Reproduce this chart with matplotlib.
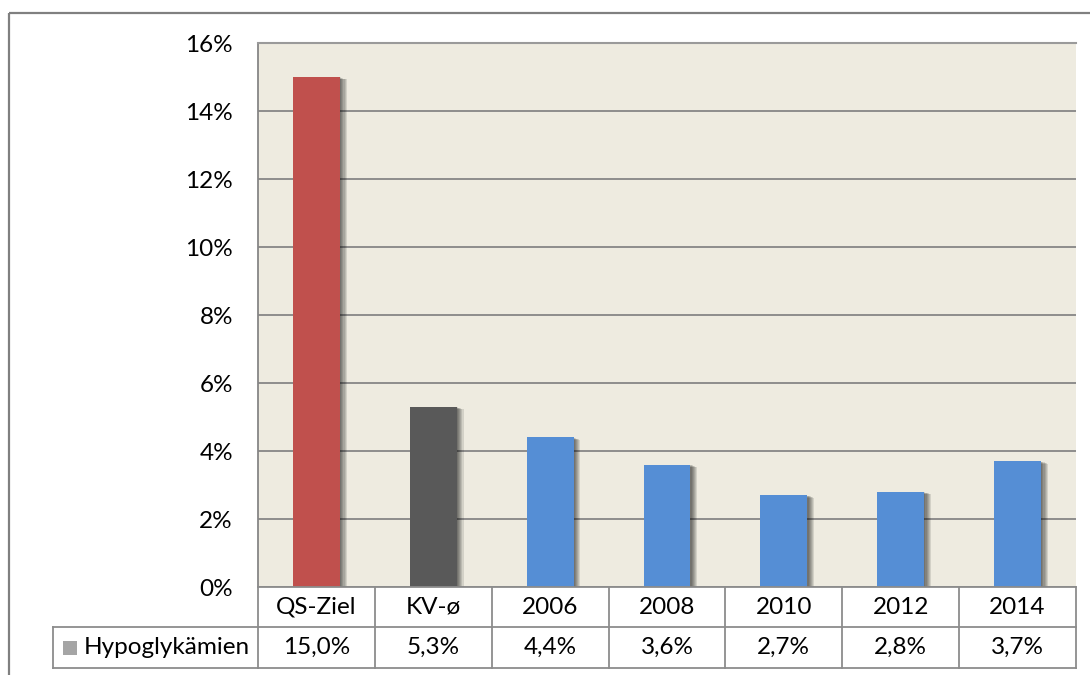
import matplotlib
matplotlib.use("Agg")
import matplotlib.pyplot as plt
import matplotlib.patheffects as pe
from matplotlib.patches import Rectangle
from matplotlib.ticker import FuncFormatter
import matplotlib.transforms as mtransforms

categories = ["QS-Ziel", "KV-ø", "2006", "2008", "2010", "2012", "2014"]
values = [15.0, 5.3, 4.4, 3.6, 2.7, 2.8, 3.7]
series_name = "Hypoglykämien"
colors = ["#C0504D", "#595959", "#558ED5", "#558ED5", "#558ED5", "#558ED5", "#558ED5"]
yticks = [0, 2, 4, 6, 8, 10, 12, 14, 16]

plt.rcParams['font.family'] = ['Lato', 'DejaVu Sans']
FS = 17.5

W, H = 1090, 675
fig = plt.figure(figsize=(W / 100, H / 100), dpi=100)
fig.patch.set_facecolor("white")

# outer border
fig.add_artist(Rectangle((8.5 / W, 1 - 13 / H), 1.2, -1.2, transform=fig.transFigure,
                         fill=False, edgecolor="#808080", linewidth=1.6))

left, right, top, bottom = 258, 1076, 43, 587
ax = fig.add_axes([left / W, 1 - bottom / H, (right - left) / W, (bottom - top) / H])
ax.set_facecolor("#EEEBE0")

x = list(range(len(categories)))
shadow = [pe.SimplePatchShadow(offset=(k, -k * 0.35), shadow_rgbFace="black", alpha=0.11)
          for k in (1.0, 1.8, 2.6, 3.4, 4.2, 5.0)]
bars = ax.bar(x, values, width=0.40, color=colors, zorder=3)
for b in bars:
    b.set_path_effects(shadow + [pe.Normal()])

ax.set_xlim(-0.5, len(categories) - 0.5)
ax.set_ylim(0, 16)
ax.set_yticks(yticks)
ax.yaxis.set_major_formatter(FuncFormatter(lambda v, p: f"{int(v)}%"))
ax.tick_params(axis="y", length=0, pad=18, labelsize=FS, labelcolor="black")
ax.set_xticks([])
ax.grid(axis="y", color="#868686", linewidth=1.3, zorder=1)
for s in ["top", "right", "bottom"]:
    ax.spines[s].set_visible(False)
ax.spines["left"].set_color("#868686")
ax.spines["left"].set_linewidth(1.3)
ax.spines["top"].set_visible(True)
ax.spines["top"].set_color("#9A9A9A")
ax.spines["top"].set_linewidth(1.5)

# data table
trans = mtransforms.blended_transform_factory(ax.transData, ax.transAxes)
ph = bottom - top
r1 = -(627 - bottom) / ph
r2 = -(668 - bottom) / ph
tc = "#8C8C8C"
lw = 1.3
xl, xr = -0.5, len(categories) - 0.5
ax.plot([xl, xr], [0, 0], transform=trans, color=tc, lw=lw, clip_on=False, zorder=5)
ax.plot([xl, xr], [r1, r1], transform=trans, color=tc, lw=lw, clip_on=False)
ax.plot([xl, xr], [r2, r2], transform=trans, color=tc, lw=lw, clip_on=False)
for i in range(len(categories) + 1):
    xb = i - 0.5
    ax.plot([xb, xb], [0, r2], transform=trans, color=tc, lw=lw, clip_on=False)
# left legend column
lx = -(left - 53) / (right - left)
ax.plot([lx, 0], [r1, r1], transform=ax.transAxes, color=tc, lw=lw, clip_on=False)
ax.plot([lx, 0], [r2, r2], transform=ax.transAxes, color=tc, lw=lw, clip_on=False)
ax.plot([lx, lx], [r1, r2], transform=ax.transAxes, color=tc, lw=lw, clip_on=False)

for i, (c, v) in enumerate(zip(categories, values)):
    ax.text(i, r1 / 2, c, transform=trans, ha="center", va="center", fontsize=FS)
    ax.text(i, (r1 + r2) / 2, f"{v:.1f}%".replace(".", ","), transform=trans,
            ha="center", va="center", fontsize=FS)

sq_x = -(left - 63) / (right - left)
sq_w = 14 / (right - left)
sq_h = 14 / ph
ax.add_patch(Rectangle((sq_x, (r1 + r2) / 2 - sq_h / 2), sq_w, sq_h, transform=ax.transAxes,
                       facecolor="#A5A5A5", edgecolor="none", clip_on=False))
ax.text(-(left - 84) / (right - left), (r1 + r2) / 2, series_name, transform=ax.transAxes,
        ha="left", va="center", fontsize=FS)

fig.savefig("out.png", dpi=100, facecolor="white")
